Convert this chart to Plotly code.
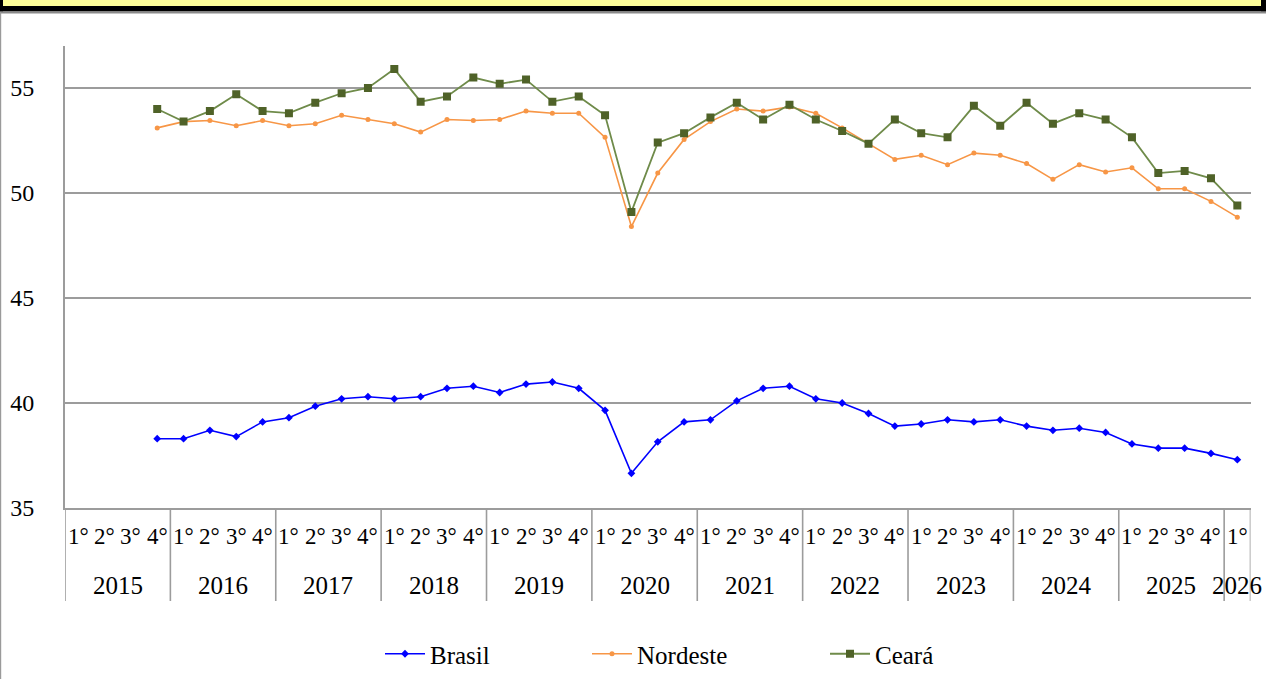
import plotly.graph_objects as go

W, H = 1266, 679

years = ["2015", "2016", "2017", "2018", "2019", "2020", "2021", "2022",
         "2023", "2024", "2025", "2026"]
quarter_labels = ["1°", "2°", "3°", "4°"]

# 45 quarterly categories: 2015 Q1 ... 2026 Q1
categories = []
cat_quarters = []
cat_years = []
for y in years:
    for q in quarter_labels:
        if y == "2026" and q != "1°":
            break
        categories.append(f"{q} {y}")
        cat_quarters.append(q)
        cat_years.append(y)

pad = [None, None, None]  # 2015 Q1-Q3 have no data
brasil = pad + [38.3,
                38.3, 38.7, 38.4, 39.1,
                39.3, 39.85, 40.2, 40.3,
                40.2, 40.3, 40.7, 40.8,
                40.5, 40.9, 41.0, 40.7,
                39.65, 36.65, 38.15, 39.1,
                39.2, 40.1, 40.7, 40.8,
                40.2, 40.0, 39.5, 38.9,
                39.0, 39.2, 39.1, 39.2,
                38.9, 38.7, 38.8, 38.6,
                38.05, 37.85, 37.85, 37.6,
                37.3]
nordeste = pad + [53.1,
                  53.4, 53.45, 53.2, 53.45,
                  53.2, 53.3, 53.7, 53.5,
                  53.3, 52.9, 53.5, 53.45,
                  53.5, 53.9, 53.8, 53.8,
                  52.65, 48.4, 50.95, 52.55,
                  53.4, 54.0, 53.9, 54.1,
                  53.8, 53.1, 52.35, 51.6,
                  51.8, 51.35, 51.9, 51.8,
                  51.4, 50.65, 51.35, 51.0,
                  51.2, 50.2, 50.2, 49.6,
                  48.85]
ceara = pad + [54.0,
               53.4, 53.9, 54.7, 53.9,
               53.8, 54.3, 54.75, 55.0,
               55.9, 54.35, 54.6, 55.5,
               55.2, 55.4, 54.35, 54.6,
               53.7, 49.1, 52.4, 52.85,
               53.6, 54.3, 53.5, 54.2,
               53.5, 52.95, 52.35, 53.5,
               52.85, 52.65, 54.15, 53.2,
               54.3, 53.3, 53.8, 53.5,
               52.65, 50.95, 51.05, 50.7,
               49.4]

y_ticks = [35, 40, 45, 50, 55]

FONT = "Liberation Serif"
GRID = "#9c9c9c"
TXT = "#000000"


def py(p):
    """pixel row -> paper y"""
    return 1 - p / H


fig = go.Figure()
fig.add_trace(go.Scatter(
    x=categories, y=brasil, name="Brasil", mode="lines+markers",
    line=dict(color="#0000FF", width=1.6),
    marker=dict(color="#0000FF", size=6, symbol="diamond"),
    legend="legend"))
fig.add_trace(go.Scatter(
    x=categories, y=nordeste, name="Nordeste", mode="lines+markers",
    line=dict(color="#F79646", width=1.6),
    marker=dict(color="#F79646", size=5, symbol="circle"),
    legend="legend2"))
fig.add_trace(go.Scatter(
    x=categories, y=ceara, name="Ceará", mode="lines+markers",
    line=dict(color="#6F8B4A", width=1.8),
    marker=dict(color="#4F6228", size=8, symbol="square"),
    legend="legend3"))

n = len(categories)
x0px, x1px = 65, 1250.5

# frame decoration at the top of the page
shapes = [
    dict(type="rect", xref="paper", yref="paper", x0=0, x1=1, y0=py(6), y1=1,
         fillcolor="#FFFF99", line=dict(width=0), layer="below"),
    dict(type="rect", xref="paper", yref="paper", x0=0, x1=1, y0=py(11.5), y1=py(6),
         fillcolor="#000000", line=dict(width=0), layer="below"),
    dict(type="rect", xref="paper", yref="paper", x0=0, x1=3 / W, y0=py(11.5), y1=1,
         fillcolor="#000000", line=dict(width=0), layer="below"),
    dict(type="rect", xref="paper", yref="paper", x0=1 - 5 / W, x1=1, y0=py(11.5), y1=1,
         fillcolor="#000000", line=dict(width=0), layer="below"),
    dict(type="line", xref="paper", yref="paper", x0=0, x1=1, y0=py(12.5), y1=py(12.5),
         line=dict(color="#8a8a8a", width=2)),
    dict(type="line", xref="paper", yref="paper", x0=0.6 / W, x1=0.6 / W, y0=0, y1=py(12),
         line=dict(color="#9a9a9a", width=1.2)),
]

# year dividers below the category axis
for b in [-0.5 + 4 * k for k in range(12)] + [n - 0.5]:
    shapes.append(dict(type="line", xref="x", yref="paper", x0=b, x1=b,
                       y0=py(601), y1=py(508),
                       line=dict(color=GRID, width=1.6)))

annotations = []
for i, q in enumerate(cat_quarters):
    annotations.append(dict(x=i, y=py(536), xref="x", yref="paper", text=q,
                            showarrow=False, xanchor="center", yanchor="middle",
                            font=dict(family=FONT, size=23, color=TXT)))
for y in years:
    idx = [i for i, cy in enumerate(cat_years) if cy == y]
    cx = (idx[0] + idx[-1]) / 2
    annotations.append(dict(x=cx, y=py(585), xref="x", yref="paper", text=y,
                            showarrow=False, xanchor="center", yanchor="middle",
                            font=dict(family=FONT, size=25, color=TXT)))

legend_common = dict(orientation="h", xanchor="left", yanchor="middle",
                     y=py(654), bgcolor="rgba(0,0,0,0)",
                     font=dict(family=FONT, size=25, color=TXT),
                     itemwidth=40)

fig.update_layout(
    width=W, height=H,
    margin=dict(l=0, r=0, t=0, b=0, autoexpand=False),
    paper_bgcolor="white", plot_bgcolor="white",
    font=dict(family=FONT, color=TXT),
    shapes=shapes, annotations=annotations,
    legend=dict(x=380 / W, **legend_common),
    legend2=dict(x=587 / W, **legend_common),
    legend3=dict(x=825 / W, **legend_common),
    xaxis=dict(type="category", categoryorder="array", categoryarray=categories,
               domain=[x0px / W, x1px / W], range=[-0.5, n - 0.5],
               showticklabels=False, ticks="", showgrid=False, automargin=False,
               showline=True, linecolor=GRID, linewidth=2, zeroline=False),
    yaxis=dict(domain=[py(508), py(46)], range=[35, 57], tickvals=y_ticks,
               showgrid=True, gridcolor=GRID, gridwidth=1.8, automargin=False,
               showline=True, linecolor=GRID, linewidth=2, zeroline=False,
               ticks="", ticklabelstandoff=24,
               tickfont=dict(family=FONT, size=24, color=TXT)),
    showlegend=True,
)

fig.write_html(
    "out.html",
    config={"displayModeBar": False},
    post_script="document.body.style.margin='0';document.body.style.overflow='hidden';",
)
